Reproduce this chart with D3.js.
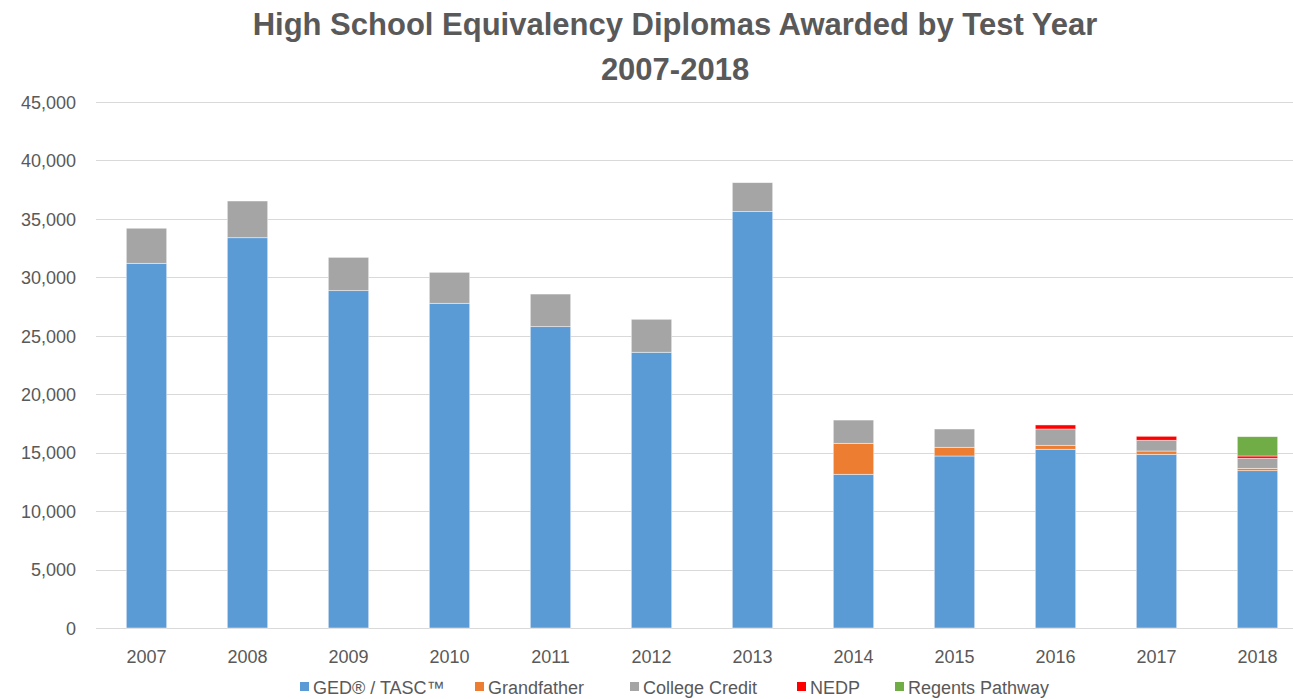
<!DOCTYPE html>
<html>
<head>
<meta charset="utf-8">
<script src="https://cdn.jsdelivr.net/npm/d3@7"></script>
<style>
  html, body { margin: 0; padding: 0; background: #fff; }
  svg { display: block; }
  text { font-family: "Liberation Sans", Arial, sans-serif; fill: #595959; }
</style>
</head>
<body>
<svg id="chart" width="1293" height="699"></svg>
<script>
// 年份
var years = ['2007', '2008', '2009', '2010', '2011', '2012', '2013', '2014', '2015', '2016', '2017', '2018']
// 各类文凭人数
var ged = [31200, 33390, 28860, 27780, 25780, 23590, 35620, 13150, 14715, 15290, 14860, 13460]
var grandfather = [0, 0, 0, 0, 0, 0, 0, 2650, 745, 340, 280, 200]
var collegeCredit = [3000, 3140, 2850, 2650, 2790, 2820, 2480, 1990, 1565, 1395, 920, 860]
var nedp = [0, 0, 0, 0, 0, 0, 0, 0, 0, 345, 340, 195]
var regents = [0, 0, 0, 0, 0, 0, 0, 0, 0, 0, 0, 1655]
// 图例
var seriesNames = ['GED® / TASC™', 'Grandfather', 'College Credit', 'NEDP', 'Regents Pathway']
var seriesColors = ['#5B9BD5', '#ED7D31', '#A5A5A5', '#FF0000', '#70AD47']
// 纵轴刻度
var yTicks = [0, 5000, 10000, 15000, 20000, 25000, 30000, 35000, 40000, 45000]

var svg = d3.select('#chart')

// 组装堆叠数据
var keys = ['ged', 'grandfather', 'collegeCredit', 'nedp', 'regents']
var rows = years.map(function (y, i) {
  return {
    year: y,
    ged: ged[i],
    grandfather: grandfather[i],
    collegeCredit: collegeCredit[i],
    nedp: nedp[i],
    regents: regents[i]
  }
})
var stacked = d3.stack().keys(keys)(rows)

var x = d3.scaleBand().domain(years).range([96, 1308]).paddingInner(0.6).paddingOuter(0.3)
var y = d3.scaleLinear().domain([0, 45000]).range([628, 102])

// 网格线
svg.append('g')
  .selectAll('line')
  .data(yTicks)
  .join('line')
  .attr('x1', 96)
  .attr('x2', 1293)
  .attr('y1', (d) => Math.round(y(d)) + 0.5)
  .attr('y2', (d) => Math.round(y(d)) + 0.5)
  .attr('stroke', '#D9D9D9')
  .attr('stroke-width', 1)

// 纵轴标签
var yAxis = d3.axisLeft(y).tickValues(yTicks).tickFormat(d3.format(',')).tickSize(0).tickPadding(0)
var gy = svg.append('g').attr('transform', 'translate(76,0)').call(yAxis)
gy.select('.domain').remove()
gy.selectAll('text')
  .attr('font-size', 18)
  .attr('font-family', '"Liberation Sans", Arial, sans-serif')
  .attr('fill', '#595959')
  .attr('dy', '0.35em')

// 横轴标签
var xAxis = d3.axisBottom(x).tickSize(0).tickPadding(0)
var gx = svg.append('g').attr('transform', 'translate(0,628)').call(xAxis)
gx.select('.domain').remove()
gx.selectAll('text')
  .attr('font-size', 18)
  .attr('font-family', '"Liberation Sans", Arial, sans-serif')
  .attr('fill', '#595959')
  .attr('y', 35)
  .attr('dy', 0)

// 堆叠柱
svg.append('g')
  .selectAll('g')
  .data(stacked)
  .join('g')
  .attr('fill', (d, i) => seriesColors[i])
  .selectAll('rect')
  .data((d) => d.filter((p) => p[1] - p[0] > 0))
  .join('rect')
  .attr('x', (d) => x(d.data.year))
  .attr('width', x.bandwidth())
  .attr('y', (d) => y(d[1]))
  .attr('height', (d) => y(d[0]) - y(d[1]))
  .attr('stroke', '#ffffff')
  .attr('stroke-opacity', 0.6)
  .attr('stroke-width', 0.75)

// 标题
var title = svg.append('text')
  .attr('x', 675)
  .attr('text-anchor', 'middle')
  .attr('font-size', 31)
  .attr('font-weight', 'bold')
title.append('tspan').attr('x', 675).attr('y', 35).text('High School Equivalency Diplomas Awarded by Test Year')
title.append('tspan').attr('x', 675).attr('y', 80).text('2007-2018')

// 图例
var legendX = [300, 475, 630, 797, 895]
var legend = svg.append('g')
  .selectAll('g')
  .data(seriesNames)
  .join('g')
  .attr('transform', (d, i) => 'translate(' + legendX[i] + ',682)')
legend.append('rect')
  .attr('width', 9)
  .attr('height', 9)
  .attr('fill', (d, i) => seriesColors[i])
legend.append('text')
  .attr('x', 13)
  .attr('y', 12)
  .attr('font-size', 18)
  .text((d) => d)
</script>
</body>
</html>
